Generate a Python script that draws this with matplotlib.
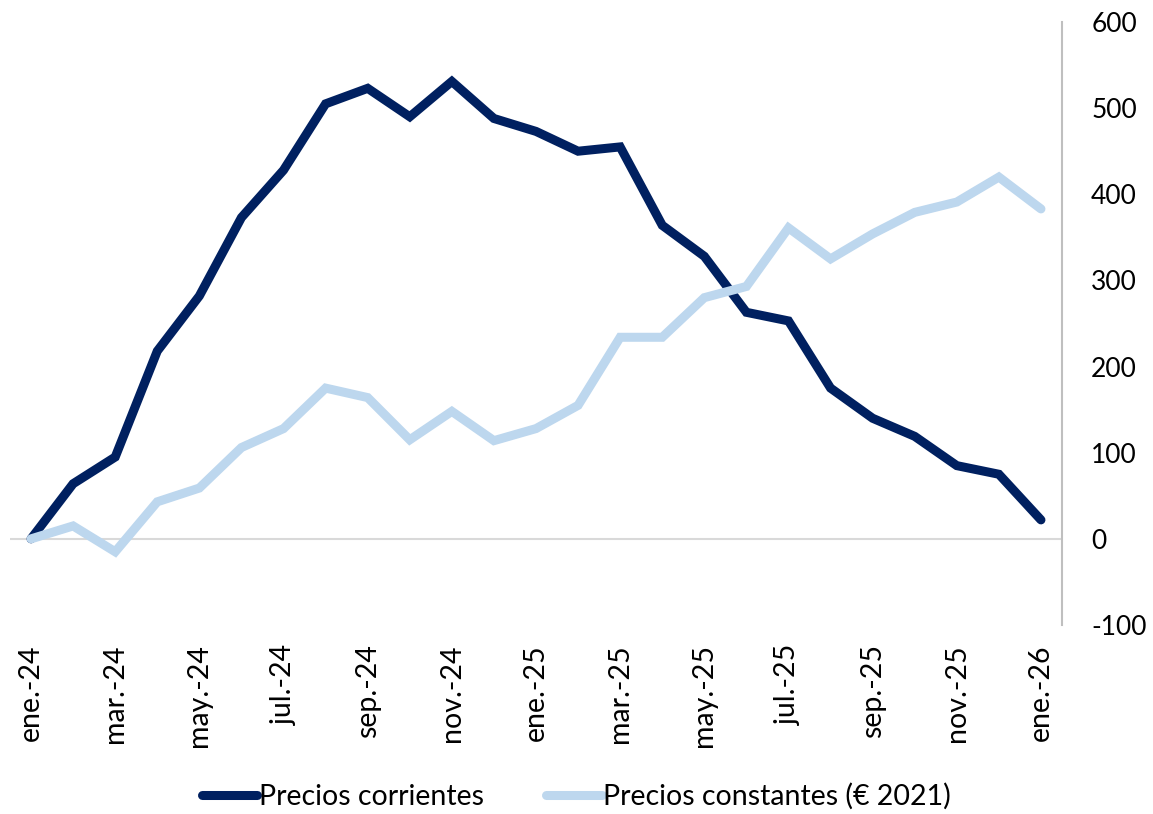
import matplotlib
matplotlib.use("Agg")
import matplotlib.pyplot as plt
import numpy as np

months = ["ene.-24","feb.-24","mar.-24","abr.-24","may.-24","jun.-24","jul.-24","ago.-24",
          "sep.-24","oct.-24","nov.-24","dic.-24","ene.-25","feb.-25","mar.-25","abr.-25",
          "may.-25","jun.-25","jul.-25","ago.-25","sep.-25","oct.-25","nov.-25","dic.-25","ene.-26"]
corrientes = [0, 64, 95, 218, 282, 373, 428, 505, 523, 490, 531, 488, 473, 450, 455,
              364, 328, 263, 253, 175, 140, 119, 85, 75, 22]
constantes = [0, 15, -15, 43, 59, 106, 128, 175, 164, 115, 148, 114, 128, 155, 234,
              234, 280, 293, 361, 325, 354, 379, 391, 420, 383]
yticks = [-100, 0, 100, 200, 300, 400, 500, 600]

plt.rcParams['font.family'] = ['Lato', 'DejaVu Sans']
W, H = 1153, 814
fig = plt.figure(figsize=(W/100, H/100), dpi=100)
ax = fig.add_axes([10/W, 1-625/H, (1062-10)/W, (625-22)/H])

x = np.arange(len(months))
ax.plot(x, corrientes, color="#002060", lw=6.5, solid_joinstyle="miter",
        solid_capstyle="round", label="Precios corrientes")
ax.plot(x, constantes, color="#BDD7EE", lw=6.5, solid_joinstyle="miter",
        solid_capstyle="round", label="Precios constantes (€ 2021)")
ax.axhline(0, color="#D9D9D9", lw=1.5, zorder=0)

ax.set_xlim(-0.5, len(months)-0.5)
ax.set_ylim(-100, 600)
ax.yaxis.tick_right()
ax.set_yticks(yticks)
ax.set_yticklabels([str(v) for v in yticks], fontsize=19)
ax.tick_params(axis='y', length=0, pad=21)
ax.set_xticks(x[::2])
ax.set_xticklabels(months[::2], rotation=90, fontsize=20.5)
ax.tick_params(axis='x', length=0, pad=14)
for s in ["top", "left", "bottom"]:
    ax.spines[s].set_visible(False)
ax.spines["right"].set_color("#BFBFBF")
ax.spines["right"].set_linewidth(1.5)

fig.legend(loc="lower center", bbox_to_anchor=(0.5, -0.026), ncol=2, frameon=False,
           fontsize=20.5, handlelength=1.95, columnspacing=2.2, handletextpad=0.05)
fig.savefig("out.png", dpi=100)
